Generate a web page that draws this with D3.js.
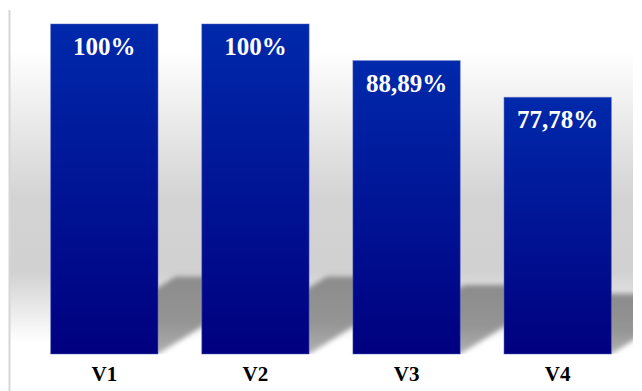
<!DOCTYPE html>
<html><head><meta charset="utf-8">
<script src="https://cdn.jsdelivr.net/npm/d3@7/dist/d3.min.js"></script>
<style>html,body{margin:0;padding:0;background:#fff;}svg{display:block;}
text{font-family:"Liberation Serif","Times New Roman",Times,serif;font-weight:bold;}</style>
</head><body>
<svg id="chart" width="642" height="391"></svg>
<script>
const categories = ["V1", "V2", "V3", "V4"];
const values = [100, 100, 88.89, 77.78];
const valueLabels = ["100%", "100%", "88,89%", "77,78%"];

const W = 642, H = 391;
const plot = {left: 10, right: 633, top: 10, bottom: 354};
const svg = d3.select("#chart");
const defs = svg.append("defs");

const bg = defs.append("linearGradient").attr("id","bg").attr("x1",0).attr("y1",0).attr("x2",0).attr("y2",1);
[[0,"#ffffff"],[0.12,"#ffffff"],[0.55,"#d3d3d3"],[0.76,"#d1d1d1"],[0.965,"#ffffff"],[1,"#ffffff"]]
  .forEach(([o,c]) => bg.append("stop").attr("offset",o).attr("stop-color",c));

const barG = defs.append("linearGradient").attr("id","barG").attr("x1",0).attr("y1",0).attr("x2",0).attr("y2",1);
[[0,"#0029ab"],[1,"#00007f"]].forEach(([o,c]) => barG.append("stop").attr("offset",o).attr("stop-color",c));

const shG = defs.append("linearGradient").attr("id","shG").attr("x1",0).attr("y1",0).attr("x2",0).attr("y2",1);
[[0,"#8b8b8b"],[0.6,"#959595"],[1,"#b0b0b0"]].forEach(([o,c]) => shG.append("stop").attr("offset",o).attr("stop-color",c));

defs.append("filter").attr("id","blur").attr("x","-20%").attr("y","-20%").attr("width","140%").attr("height","140%")
  .append("feGaussianBlur").attr("stdDeviation",2.5);

defs.append("clipPath").attr("id","plotClip").append("rect")
  .attr("x",plot.left).attr("y",plot.top).attr("width",plot.right-plot.left).attr("height",plot.bottom-plot.top);

svg.append("rect").attr("x",plot.left).attr("y",plot.top)
  .attr("width",plot.right-plot.left).attr("height",plot.bottom-plot.top).attr("fill","url(#bg)");

svg.append("line").attr("x1",9.5).attr("x2",9.5).attr("y1",plot.top).attr("y2",H)
  .attr("stroke","#d6d6d6").attr("stroke-width",2);

const x = d3.scaleBand().domain(categories).range([28, 634]).paddingInner(0.29).paddingOuter(0.15);
const y = d3.scaleLinear().domain([0, 100]).range([plot.bottom, 24]);

const data = categories.map((c,i) => ({c, v: values[i], label: valueLabels[i]}));

// shadows
const k = 0.235, slope = 0.62;
svg.append("g").attr("clip-path","url(#plotClip)").selectAll("polygon").data(data).join("polygon")
  .attr("points", d => {
    const x0 = x(d.c), x1 = x0 + x.bandwidth(), b = y(0), h = y(0) - y(d.v);
    const sh = k*h, dx = sh/slope;
    return [[x0,b],[x1,b],[x1+dx,b-sh],[x0+dx,b-sh]].map(p=>p.join(",")).join(" ");
  })
  .attr("fill","url(#shG)").attr("filter","url(#blur)");

// bars
svg.append("g").selectAll("rect").data(data).join("rect")
  .attr("x", d => x(d.c)).attr("y", d => y(d.v))
  .attr("width", x.bandwidth()).attr("height", d => y(0) - y(d.v))
  .attr("fill","url(#barG)").attr("stroke","#5060c0").attr("stroke-opacity",0.5).attr("stroke-width",1);

// value labels
svg.append("g").selectAll("text").data(data).join("text")
  .attr("x", d => x(d.c) + x.bandwidth()/2).attr("y", d => y(d.v) + 31)
  .attr("text-anchor","middle").attr("fill","#ffffff")
  .style("font-size","25px")
  .text(d => d.label);

// category axis labels
const xAxis = d3.axisBottom(x).tickSize(0).tickPadding(0);
const ax = svg.append("g").attr("transform",`translate(0,${plot.bottom})`).call(xAxis);
ax.select(".domain").remove();
ax.attr("font-family", null).attr("font-size", null);
ax.selectAll("text").attr("dy",null).attr("y",27)
  .attr("fill","#000").style("font-size","21px");
</script>
</body></html>
